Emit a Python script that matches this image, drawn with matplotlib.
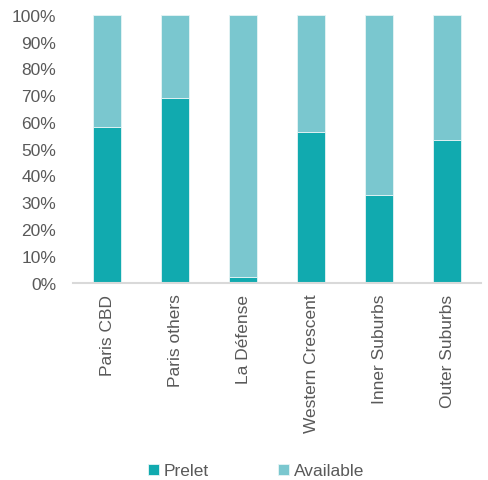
import matplotlib
matplotlib.use("Agg")
import matplotlib.pyplot as plt
from matplotlib.ticker import PercentFormatter

categories = ["Paris CBD", "Paris others", "La Défense", "Western Crescent", "Inner Suburbs", "Outer Suburbs"]
prelet = [58.0, 68.8, 2.2, 56.4, 32.8, 53.4]
available = [100 - p for p in prelet]

plt.rcParams['font.family'] = ['Liberation Sans', 'DejaVu Sans']

fig = plt.figure(figsize=(4.88, 4.81), dpi=100)
ax = fig.add_axes([73/488, (481-283.5)/481, 408/488, (283.5-16)/481])

x = range(len(categories))
c1 = "#11AAAF"
c2 = "#7AC7CF"
ax.bar(x, prelet, width=0.4, color=c1, edgecolor="#E6F4F5", linewidth=0.6, label="Prelet")
ax.bar(x, available, bottom=prelet, width=0.4, color=c2, edgecolor="#E6F4F5", linewidth=0.6, label="Available")

ax.set_xlim(-0.5, len(categories) - 0.5)
ax.set_ylim(0, 100)
ax.set_yticks(range(0, 101, 10))
ax.yaxis.set_major_formatter(PercentFormatter(decimals=0))
ax.set_xticks(list(x))
ax.set_xticklabels(categories, rotation=90)

for s in ["top", "right", "left"]:
    ax.spines[s].set_visible(False)
ax.spines["bottom"].set_color("#D9D9D9")
ax.spines["bottom"].set_linewidth(1.5)
ax.tick_params(axis="y", length=0, pad=12, labelsize=12.5, labelcolor="#595959")
ax.tick_params(axis="x", length=0, pad=8, labelsize=12.5, labelcolor="#595959")

leg = fig.legend(loc="center", bbox_to_anchor=(256/488, 1 - 472/481), ncol=2, frameon=False,
                 fontsize=12.5, handlelength=0.65, handleheight=0.65, handletextpad=0.25,
                 columnspacing=4.0, labelcolor="#595959")

fig.savefig("out.png", dpi=100)
